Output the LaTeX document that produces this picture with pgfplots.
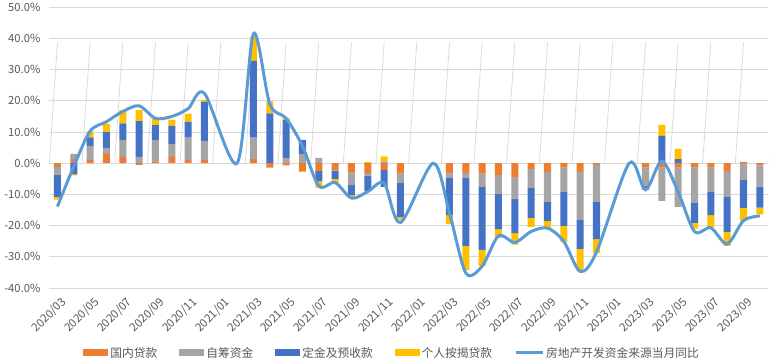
\documentclass[border=0pt]{standalone}
\usepackage{pgfplots}
\pgfplotsset{compat=1.18}
\usepackage{pgfplotstable}
\usepackage{fontspec}
\setmainfont{Noto Sans CJK SC}
\definecolor{cO}{HTML}{ED7D31}
\definecolor{cG}{HTML}{A5A5A5}
\definecolor{cB}{HTML}{4472C4}
\definecolor{cY}{HTML}{FFC000}
\definecolor{cL}{HTML}{5B9BD5}
\definecolor{cGrid}{HTML}{D9D9D9}
\definecolor{cT}{HTML}{595959}

\pgfplotstableread{
i o g b y
0 -1.2 -2.5 -7.1 -0.9
1 1.3 1.7 -3.5 -0.4
2 1.1 4.5 2.7 1.9
3 3.0 1.9 5.1 2.6
4 2.0 5.4 5.4 4.2
5 -0.5 2.0 11.5 3.6
6 0.6 6.8 4.8 2.0
7 2.0 4.2 5.8 2.0
8 1.1 7.1 5.1 2.6
9 1.1 6.1 12.5 0.6
10 0 0 0 0
11 0 0 0 0
12 1.3 6.9 24.6 7.6
13 -1.4 0.0 16.0 3.8
14 -0.7 1.7 12.2 0.6
15 -2.5 3.0 4.5 -0.3
16 -2.5 1.7 -3.2 -2.1
17 -2.1 -0.3 -2.6 -1.2
18 -3.0 -4.0 -3.2 -0.6
19 -3.1 -1.0 -4.8 0.4
20 -2.1 0.6 -5.5 1.6
21 -3.3 -3.0 -10.9 -0.9
22 0 0 0 0
23 0 0 0 0
24 -3.3 -1.4 -11.9 -2.9
25 -3.1 -1.6 -21.8 -7.7
26 -3.3 -4.3 -20.2 -5.1
27 -3.7 -6.1 -11.3 -2.8
28 -4.4 -7.1 -10.9 -3.7
29 -1.8 -6.1 -9.6 -2.9
30 -2.8 -9.6 -6.1 -2.6
31 -1.4 -7.8 -10.9 -5.1
32 -2.8 -15.4 -9.3 -7.1
33 -0.5 -11.9 -11.9 -4.5
34 0 0 0 0
35 0 0 0 0
36 -1.4 -5.9 -1.2 0
37 -1.4 -10.7 8.8 3.5
38 -1.4 -12.6 1.3 3.3
39 -1.4 -11.3 -6.4 -1.9
40 -1.4 -7.8 -7.4 -3.8
41 -2.5 -8.3 -11.2 -4.5
42 0.4 -5.3 -9.0 -4.1
43 -0.7 -6.8 -6.7 -2.2
}\bars

\pgfplotstableread{
i v
0 -13.9
1 -1.0
2 10.3
3 13.3
4 16.6
5 18.4
6 14.4
7 15.0
8 17.5
9 22.4
11 0
12 41.5
13 19.0
14 14.4
15 5.5
16 -7.3
17 -6.2
18 -11.2
19 -9.1
20 -6.4
21 -19.0
23 0
24 -16.0
25 -35.2
26 -33.0
27 -23.3
28 -25.4
29 -21.9
30 -20.8
31 -25.1
32 -34.7
33 -28.5
35 0
36 -8.5
37 0.7
38 -9.2
39 -21.9
40 -20.7
41 -25.9
42 -18.4
43 -16.9
}\linedata

\pgfplotsset{
  common/.style={
    scale only axis, width=719bp, height=280.8bp,
    xmin=-0.5, xmax=43.5, ymin=-40, ymax=50,
    at={(0,0)}, anchor=south west,
  },
  barst/.style={ybar stacked, bar width=0.43},
}

\begin{document}
\fontsize{11}{13}\selectfont
\begin{tikzpicture}
% positive parts + grid, ticks, legend
\begin{axis}[common, barst, name=ax,
  axis line style={draw=none}, major tick length=0pt,
  ymajorgrids, grid style={cGrid, line width=0.75bp},
  ytick={-40,-30,...,50},
  /pgf/number format/assume math mode=true,
  yticklabel={\pgfmathprintnumber[fixed,fixed zerofill,precision=1]{\tick}\%},
  yticklabel style={text=cT, font=\fontsize{11.3}{13}\selectfont, xshift=-5bp},
  xtick={0,2,...,42},
  xticklabels={2020/03,2020/05,2020/07,2020/09,2020/11,2021/01,2021/03,2021/05,2021/07,2021/09,2021/11,2022/01,2022/03,2022/05,2022/07,2022/09,2022/11,2023/01,2023/03,2023/05,2023/07,2023/09},
  xticklabel style={text=cT, font=\fontsize{11.5}{13}\selectfont, xshift=3bp, yshift=-8bp, rotate=45, anchor=north east, inner sep=0pt},
  legend image code/.code={\fill[#1] (0bp,-3.5bp) rectangle (25bp,3.5bp);},
  legend style={draw=none, fill=none, at={(0.5,0)}, anchor=center, xshift=-16.5bp, yshift=-65bp,
    legend columns=5, font=\fontsize{11.8}{14}\selectfont, text=cT,
    /tikz/every even column/.append style={column sep=20bp}},
  legend cell align=left,
]
\addplot[fill=cO, draw=none] table[x=i, y expr={max(\thisrow{o},0)}] {\bars};
\addlegendentry{国内贷款}
\addplot[fill=cG, draw=none] table[x=i, y expr={max(\thisrow{g},0)}] {\bars};
\addlegendentry{自筹资金}
\addplot[fill=cB, draw=none] table[x=i, y expr={max(\thisrow{b},0)}] {\bars};
\addlegendentry{定金及预收款}
\addplot[fill=cY, draw=none] table[x=i, y expr={max(\thisrow{y},0)}] {\bars};
\addlegendentry{个人按揭贷款}
\addlegendimage{legend image code/.code={\draw[cL, line width=3bp] (0bp,0bp) -- (27bp,0bp);}}
\addlegendentry{房地产开发资金来源当月同比}
\pgfplotsinvokeforeach{-0.5,1.5,...,43.5}{\draw[cGrid, line width=0.75bp] (axis cs:#1,0) -- ++(0,-4bp);}
\end{axis}
% negative parts
\begin{axis}[common, barst, hide axis]
\addplot[fill=cO, draw=none] table[x=i, y expr={min(\thisrow{o},0)}] {\bars};
\addplot[fill=cG, draw=none] table[x=i, y expr={min(\thisrow{g},0)}] {\bars};
\addplot[fill=cB, draw=none] table[x=i, y expr={min(\thisrow{b},0)}] {\bars};
\addplot[fill=cY, draw=none] table[x=i, y expr={min(\thisrow{y},0)}] {\bars};
\end{axis}
% line
\begin{axis}[common, hide axis]
\addplot[cL, line width=3bp, smooth, no marks] table[x=i, y=v] {\linedata};
\end{axis}
\pgfresetboundingbox
\path ([xshift=-49.3bp,yshift=-76bp]ax.south west) rectangle ([xshift=10bp,yshift=7.3bp]ax.north east);
\end{tikzpicture}
\end{document}
